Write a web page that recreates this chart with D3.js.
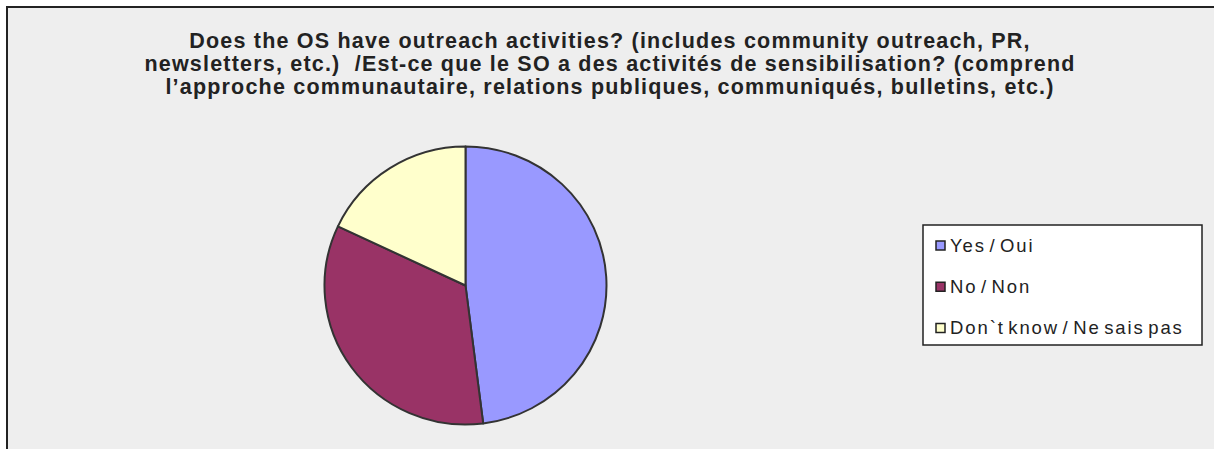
<!DOCTYPE html>
<html>
<head>
<meta charset="utf-8">
<script src="https://cdn.jsdelivr.net/npm/d3@7/dist/d3.min.js"></script>
<style>
  html, body { margin: 0; padding: 0; background: #ffffff; }
  svg { display: block; }
</style>
</head>
<body>
<svg id="chart" width="1214" height="449"></svg>
<script>
// Survey responses
const categories = ["Yes / Oui", "No / Non", "Don`t know / Ne sais pas"];
const counts = [24, 17, 9];
const colors = ["#9999ff", "#993366", "#ffffcc"];
const titleLines = [
  "Does the OS have outreach activities? (includes community outreach, PR,",
  "newsletters, etc.)  /Est-ce que le SO a des activités de sensibilisation? (comprend",
  "l’approche communautaire, relations publiques, communiqués, bulletins, etc.)"
];

const svg = d3.select("#chart");
const W = 1214, H = 449;

// chart area panel (extends past the right and bottom edges)
svg.append("rect")
  .attr("x", 7).attr("y", 7)
  .attr("width", W + 20).attr("height", H + 20)
  .attr("fill", "#eeeeee")
  .attr("stroke", "#222222")
  .attr("stroke-width", 2);

// title
const title = svg.append("text")
  .attr("text-anchor", "middle")
  .attr("font-family", "'Liberation Sans', Arial, sans-serif")
  .attr("font-weight", "bold")
  .attr("font-size", 21.5)
  .attr("fill", "#222222")
  .style("letter-spacing", "1.2px");
title.selectAll("tspan")
  .data(titleLines)
  .join("tspan")
  .attr("x", 610)
  .attr("y", (d, i) => 48 + i * 23)
  .style("white-space", "pre")
  .text(d => d);

// pie
const cx = 465.5, cy = 285.5, r = 141;
const pie = d3.pie().sort(null).value(d => d)(counts);
const arc = d3.arc().innerRadius(0).outerRadius(r);
svg.append("g")
  .attr("transform", `translate(${cx},${cy}) scale(1,0.986)`)
  .selectAll("path")
  .data(pie)
  .join("path")
  .attr("d", arc)
  .attr("fill", (d, i) => colors[i])
  .attr("stroke", "#333333")
  .attr("stroke-width", 2)
  .attr("stroke-linejoin", "round");

// legend
const lg = svg.append("g");
lg.append("rect")
  .attr("x", 923).attr("y", 225)
  .attr("width", 279).attr("height", 120)
  .attr("fill", "#ffffff")
  .attr("stroke", "#222222")
  .attr("stroke-width", 1.5);

const rowY = d3.scalePoint().domain(categories).range([251.5, 334]);
const items = lg.selectAll("g.item")
  .data(categories)
  .join("g")
  .attr("class", "item")
  .attr("transform", d => `translate(0,${rowY(d)})`);
items.append("rect")
  .attr("x", 936).attr("y", -10.5)
  .attr("width", 9).attr("height", 9)
  .attr("fill", (d, i) => colors[i])
  .attr("stroke", "#222222")
  .attr("stroke-width", 1.5);
items.append("text")
  .attr("x", 950)
  .attr("y", 0)
  .attr("font-family", "'Liberation Sans', Arial, sans-serif")
  .attr("font-size", 18.5)
  .attr("fill", "#222222")
  .style("letter-spacing", "1.9px")
  .style("word-spacing", "-3.5px")
  .text(d => d);
</script>
</body>
</html>
